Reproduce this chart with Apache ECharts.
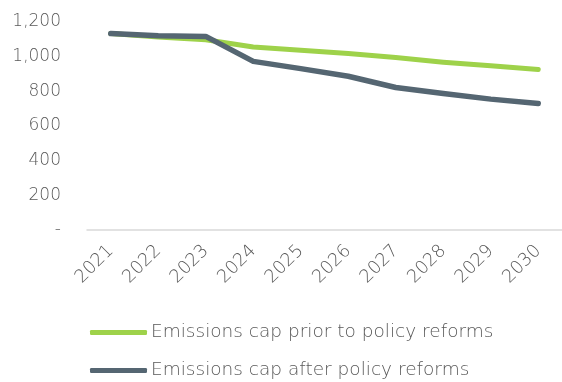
<!DOCTYPE html>
<html><head><meta charset="utf-8">
<script src="https://cdn.jsdelivr.net/npm/echarts@6/dist/echarts.min.js"></script>
<style>html,body{margin:0;padding:0;background:#fff}#c{width:562px;height:382px}</style>
</head><body><div id="c"></div>
<script>
var years = ['2021','2022','2023','2024','2025','2026','2027','2028','2029','2030'];
var capPrior = [1133, 1114, 1098, 1056, 1037, 1018, 995, 968, 947, 926];
var capAfter = [1133, 1121, 1117, 973, 931, 887, 822, 787, 755, 730];
var seriesNames = ['Emissions cap prior to policy reforms', 'Emissions cap after policy reforms'];
var chart = echarts.init(document.getElementById('c'));
var font = 'DejaVu Sans';
var fw = 200;
function legendFor(name, top) {
  return {
    orient: 'horizontal', left: 90, top: top, padding: 0,
    icon: 'roundRect', itemWidth: 57, itemHeight: 5,
    textStyle: {color: '#595959', fontSize: 18.5, fontWeight: fw, fontFamily: font, padding: [0,0,0,-1]},
    data: [name]
  };
}
chart.setOption({
  animation: false,
  grid: {left: 87, right: 0, top: 22, bottom: 152},
  legend: [legendFor(seriesNames[0], 323), legendFor(seriesNames[1], 361)],
  xAxis: {
    type: 'category', data: years, boundaryGap: true,
    axisLine: {lineStyle: {color: '#d9d9d9', width: 1.5}},
    axisTick: {show: false},
    axisLabel: {rotate: 45, color: '#595959', fontSize: 18, fontWeight: fw, fontFamily: font, margin: 18}
  },
  yAxis: {
    type: 'value', min: 0, max: 1200, interval: 200,
    splitLine: {show: false},
    axisLine: {show: false}, axisTick: {show: false},
    axisLabel: {color: '#595959', fontSize: 17, fontWeight: fw, fontFamily: font, margin: 26,
      formatter: function(v){ return v === 0 ? '-' : v.toLocaleString('en-US'); }}
  },
  series: [
    {name: seriesNames[0], type: 'line', data: capPrior, symbol: 'none',
     itemStyle: {color: '#9ed24a'}, lineStyle: {color: '#9ed24a', width: 5, cap: 'round', join: 'round'}},
    {name: seriesNames[1], type: 'line', data: capAfter, symbol: 'none',
     itemStyle: {color: '#556672'}, lineStyle: {color: '#556672', width: 5.5, cap: 'round', join: 'round'}}
  ]
});
</script></body></html>
